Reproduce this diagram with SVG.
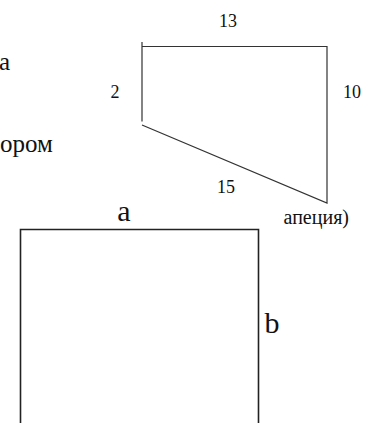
<svg xmlns="http://www.w3.org/2000/svg" width="369" height="423" viewBox="0 0 369 423">
<style>
text{font-family:'Liberation Serif','Times New Roman',serif;fill:#111}
.n{font-size:18px;text-anchor:middle}
.big{font-size:25px}
.lab{font-size:30px;text-anchor:middle}
.trap{fill:none;stroke:#333;stroke-width:1.2}
.sq{fill:none;stroke:#222;stroke-width:1.6}
</style>
<defs>
<clipPath id="cl"><rect x="279" y="200" width="90" height="40"/></clipPath>
</defs>
<rect width="369" height="423" fill="#fff"/>
<g id="left-text">
<text class="big" x="-1" y="70">а</text>
<text class="big" x="0" y="152">ором</text>
</g>
<g id="trapezoid">
<path class="trap" d="M142,42 V121.5 M142,46.5 H327 V203 L142,125"/>
<text class="n" x="228" y="27">13</text>
<text class="n" x="115" y="98">2</text>
<text class="n" x="352" y="98">10</text>
<text class="n" x="226" y="193">15</text>
<text x="349" y="224" font-size="20" text-anchor="end" clip-path="url(#cl)">апеция)</text>
</g>
<g id="square">
<path class="sq" d="M20.5,423 V229.5 H258.5 V423"/>
<text class="lab" x="124" y="221">a</text>
<text class="lab" x="272" y="333">b</text>
</g>
</svg>
